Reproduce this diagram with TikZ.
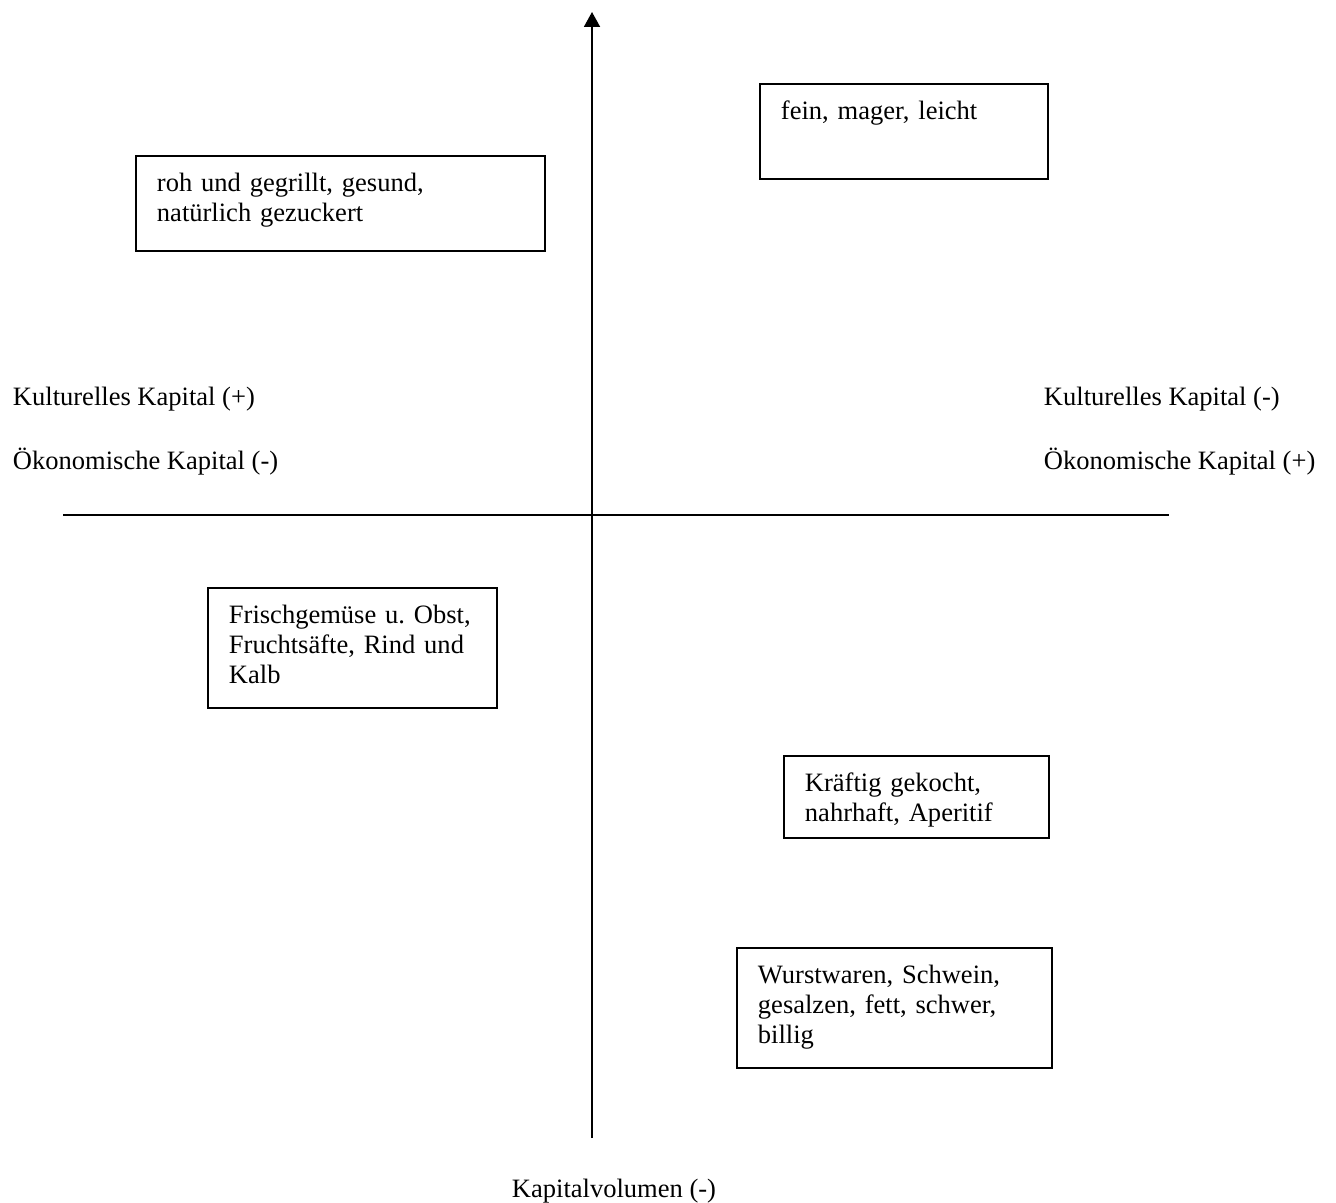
\documentclass[tikz,border=0pt]{standalone}
\usepackage{fontspec}
\setmainfont{Liberation Serif}
\usetikzlibrary{arrows.meta}
\frenchspacing

\begin{document}
\begin{tikzpicture}[x=0.02cm, y=-0.02cm, line width=1.1pt,
  every node/.style={font=\fontsize{15.1}{17}\selectfont},
  feld/.style={draw, anchor=north west, align=left, inner xsep=0.42cm, inner ysep=0pt, text height=0.72cm},
  beschriftung/.style={anchor=base west, inner sep=0pt},
  achse/.style={-{Triangle[width=0.32cm, length=0.3cm]}}]
  \useasboundingbox (0,0) rectangle (1336,1203);
  \coordinate (oben) at (592,12);
  \coordinate (unten) at (592,1138);
  \coordinate (links) at (63,515);
  \coordinate (rechts) at (1169,515);
  \draw[achse] (unten) -- (oben);
  \draw (links) -- (rechts);

  \node[feld, text width=4.92cm, text depth=1.18cm] (fein) at (759,83) {fein, mager, leicht};
  \node[feld, text width=7.34cm, text depth=1.18cm] (roh) at (135,155) {roh und gegrillt, gesund,\\natürlich gezuckert};
  \node[feld, text width=4.94cm, text depth=1.68cm] (frisch) at (207,587) {Frischgemüse u. Obst,\\Fruchtsäfte, Rind und\\Kalb};
  \node[feld, text width=4.46cm, text depth=0.92cm] (kraeftig) at (783,755) {Kräftig gekocht,\\nahrhaft, Aperitif};
  \node[feld, text width=5.46cm, text depth=1.68cm] (wurst) at (736,947) {Wurstwaren, Schwein,\\gesalzen, fett, schwer,\\billig};

  \node[beschriftung] (kulturplus) at (12,405) {Kulturelles Kapital (+)};
  \node[beschriftung] (oekominus) at (12,469) {Ökonomische Kapital (-)};
  \node[beschriftung] (kulturminus) at (1043,405) {Kulturelles Kapital (-)};
  \node[beschriftung] (oekoplus) at (1043,469) {Ökonomische Kapital (+)};
  \node[beschriftung, anchor=base] (volumen) at (614,1197) {Kapitalvolumen (-)};
\end{tikzpicture}
\end{document}
